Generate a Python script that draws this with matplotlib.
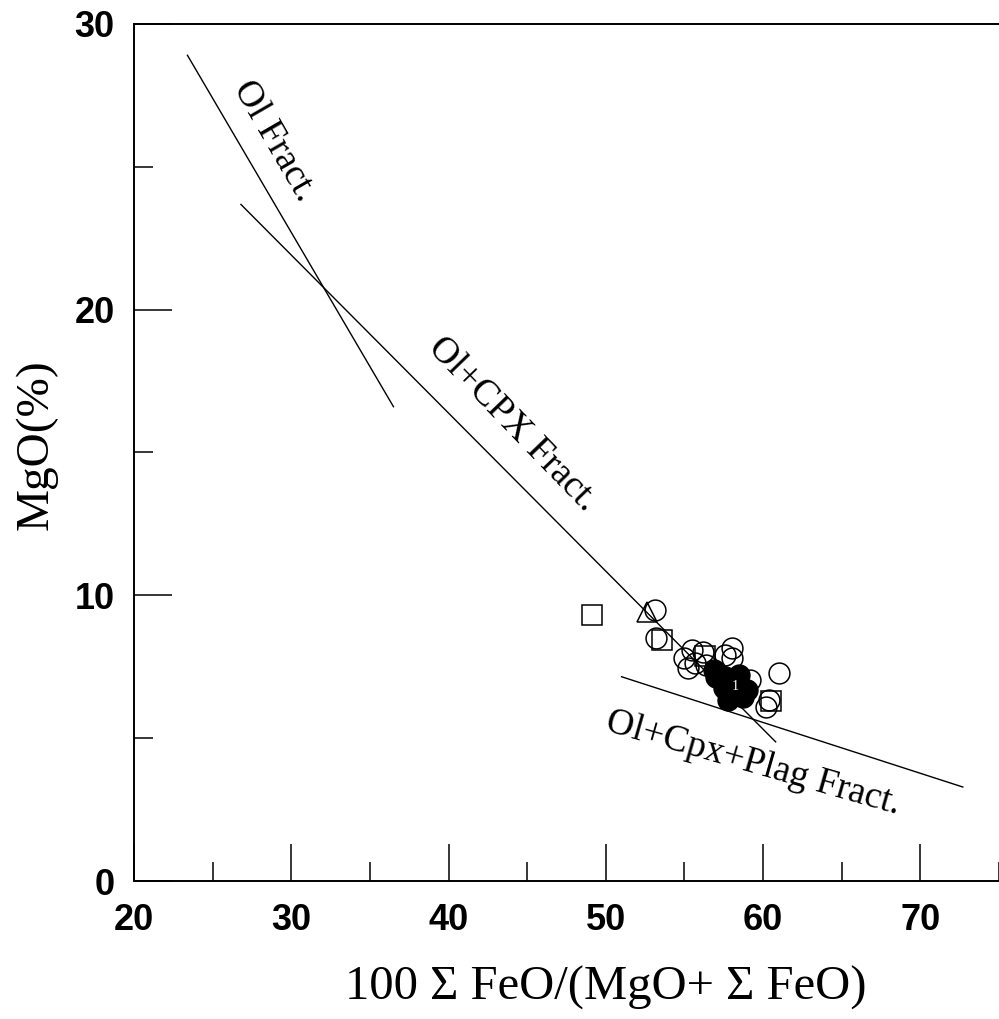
import matplotlib
matplotlib.use("Agg")
import matplotlib.pyplot as plt
from matplotlib.ticker import MultipleLocator

# sample data
open_circle_x = [53.1, 53.2, 55.0, 55.5, 55.7, 55.2, 56.2, 56.4, 57.6, 58.0, 58.0, 59.2, 61.0, 60.4, 60.2]
open_circle_y = [9.49, 8.51, 7.81, 8.09, 7.64, 7.46, 8.02, 7.57, 7.92, 8.16, 7.81, 7.04, 7.29, 6.34, 6.09]

filled_circle_x = [56.9, 57.0, 57.6, 57.5, 58.3, 58.7, 57.8, 59.0, 58.5]
filled_circle_y = [7.39, 7.15, 7.15, 6.76, 6.80, 6.44, 6.34, 6.69, 7.22]

square_x = [49.1, 53.6, 56.3, 60.5]
square_y = [9.32, 8.44, 7.88, 6.30]

triangle_x = [52.6]
triangle_y = [9.42]

# fractionation trend lines (start, end)
ol_line_x = [23.4, 36.5]
ol_line_y = [28.9, 16.6]
cpx_line_x = [26.8, 60.8]
cpx_line_y = [23.68, 4.87]
plag_line_x = [51.0, 72.7]
plag_line_y = [7.15, 3.29]

trend_labels = ["Ol Fract.", "Ol+CPX Fract.", "Ol+Cpx+Plag Fract."]
trend_label_x = [28.9, 44.1, 59.4]
trend_label_y = [25.9, 15.97, 4.1]
trend_label_rot = [-60, -46, -16]

fig = plt.figure(figsize=(9.99, 10.19), dpi=100)
ax = fig.add_axes([0.1341, 0.1354, 0.8659, 0.8412])

for lx, ly in [(ol_line_x, ol_line_y), (cpx_line_x, cpx_line_y), (plag_line_x, plag_line_y)]:
    ax.plot(lx, ly, color="black", linewidth=1.0)

mk = dict(linestyle="none", markeredgewidth=1.1, markeredgecolor="black")
ax.plot(square_x, square_y, marker="s", markersize=14, markerfacecolor="none", **mk)
ax.plot(triangle_x, triangle_y, marker="^", markersize=14, markerfacecolor="none", **mk)
ax.plot(open_circle_x, open_circle_y, marker="o", markersize=15, markerfacecolor="none", **mk)
ax.plot(filled_circle_x, filled_circle_y, marker="o", markersize=15, markerfacecolor="black", **mk)
ax.text(58.2, 6.8, "1", color="white", fontsize=10, ha="center", va="center",
        family="Liberation Serif")

for txt, tx, ty, rot in zip(trend_labels, trend_label_x, trend_label_y, trend_label_rot):
    ax.text(tx, ty, txt, rotation=rot, rotation_mode="anchor", ha="center", va="center",
            fontsize=27, family="Liberation Serif")

ax.set_xlim(20, 75)
ax.set_ylim(0, 30)
ax.xaxis.set_major_locator(MultipleLocator(10))
ax.xaxis.set_minor_locator(MultipleLocator(5))
ax.yaxis.set_major_locator(MultipleLocator(10))
ax.yaxis.set_minor_locator(MultipleLocator(5))
ax.tick_params(which="both", direction="in", width=1.1, top=False, right=False)
ax.tick_params(which="major", length=27)
ax.tick_params(which="minor", length=14)
ax.tick_params(axis="x", which="major", pad=16)
ax.tick_params(axis="y", which="major", pad=14)
for lab in ax.get_xticklabels() + ax.get_yticklabels():
    lab.set_fontfamily("Liberation Sans")
    lab.set_fontsize(26)
    lab.set_fontweight("bold")

ax.spines["right"].set_visible(False)
for side in ["left", "bottom", "top"]:
    ax.spines[side].set_linewidth(1.4)

fig.text(606 / 999, 1 - 988 / 1019, "100 \u03a3 FeO/(MgO+ \u03a3 FeO)", ha="center", va="center",
         fontsize=35, family="Liberation Serif")
fig.text(36 / 999, 1 - 445 / 1019, "MgO(%)", rotation=90, ha="center", va="center",
         fontsize=34, family="Liberation Serif")

fig.savefig("out.png", dpi=100)
